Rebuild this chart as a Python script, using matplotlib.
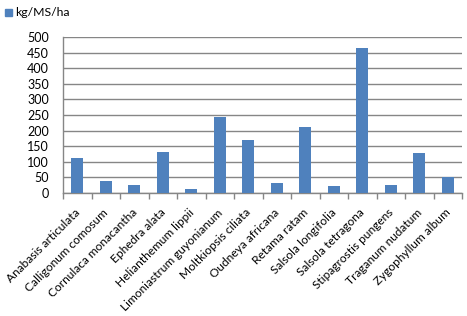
import matplotlib
matplotlib.use("Agg")
import matplotlib.pyplot as plt
import matplotlib.transforms as mtransforms
import numpy as np

categories = ["Anabasis articulata", "Calligonum comosum", "Cornulaca monacantha",
              "Ephedra alata", "Helianthemum lippii", "Limoniastrum guyonianum",
              "Moltkiopsis ciliata", "Oudneya africana", "Retama ratam",
              "Salsola longifolia", "Salsola tetragona", "Stipagrostis pungens",
              "Traganum nudatum", "Zygophyllum album"]
values = [112, 38, 26, 131, 13, 244, 170, 32, 211, 22, 465, 26, 128, 51]
yticks = [0, 50, 100, 150, 200, 250, 300, 350, 400, 450, 500]
series_name = "kg/MS/ha"

plt.rcParams['font.family'] = ['Lato', 'DejaVu Sans']
color = "#4F81BD"
grid_c = "#868686"

fig = plt.figure(figsize=(4.67, 3.16), dpi=100)
ax = fig.add_axes([63/467, 1-193/316, (462-63)/467, (193-37)/316])
x = np.arange(len(categories))
ax.bar(x, values, width=0.42, color=color, zorder=3)
ax.set_xlim(-0.5, len(categories)-0.5)
ax.set_ylim(0, 500)
ax.set_yticks(yticks)
ax.set_yticklabels([str(v) for v in yticks], fontsize=9)
ax.tick_params(axis='y', length=0, pad=10)
ax.grid(axis='y', color=grid_c, linewidth=1, zorder=0)
ax.set_xticks(x)
ax.set_xticklabels(categories, rotation=45, ha='right', rotation_mode='anchor', fontsize=8.6)
ax.tick_params(axis='x', which='major', length=0, pad=10)
offset = mtransforms.ScaledTranslation(-3/100, 0, fig.dpi_scale_trans)
for lab in ax.get_xticklabels():
    lab.set_transform(lab.get_transform() + offset)
ax.set_xticks(np.arange(-0.5, len(categories)), minor=True)
ax.tick_params(axis='x', which='minor', length=4, color=grid_c, width=1)
for s in ['top', 'right']:
    ax.spines[s].set_visible(False)
for s in ['left', 'bottom']:
    ax.spines[s].set_color(grid_c)
    ax.spines[s].set_linewidth(1)

# legend at top-left
fig.patches.append(matplotlib.patches.Rectangle((5/467, 1-16/316), 7/467, 7/316,
                   transform=fig.transFigure, color=color, figure=fig))
fig.text(15/467, 1-12/316, series_name, fontsize=8.8, va='center', ha='left')

fig.savefig("out.png", dpi=100)
